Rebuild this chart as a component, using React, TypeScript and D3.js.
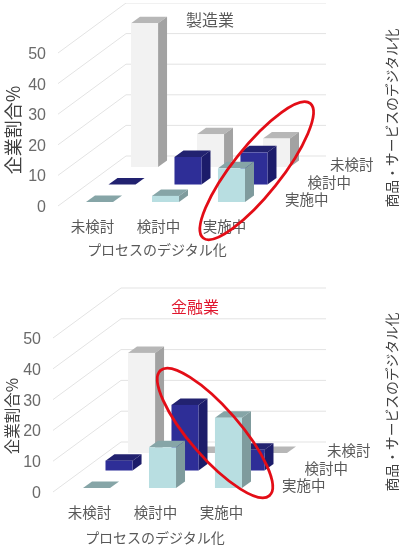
import * as d3 from "d3";

const width = 400;
const height = 547;

const processLabels = ["未検討", "検討中", "実施中"];
const productLabels = ["実施中", "検討中", "未検討"];
const yTicks = [0, 10, 20, 30, 40, 50];
const processAxisTitle = "プロセスのデジタル化";
const productAxisTitle = "商品・サービスのデジタル化";
const yAxisTitle = "企業割合%";

// % of companies, by product row then process column
const seizoJisshi = [0, 2, 11];
const seizoKento = [0, 9, 10.5];
const seizoMikento = [47, 10.7, 9.3];

const kinyuJisshi = [0, 13.2, 22.8];
const kinyuKento = [3.2, 21.3, 6.7];
const kinyuMikento = [32.5, 0, 0];

const colors = [
  { face: "#b8dee1", top: "#86a5a7", side: "#7f9b9d" },
  { face: "#2f2f97", top: "#20206f", side: "#1f1f6a" },
  { face: "#f2f2f2", top: "#b7b7b7", side: "#a2a2a2" },
];

type PanelProps = {
  title: string;
  titleColor: string;
  titleX: number;
  titleY: number;
  rows: number[][];
  y0: number; // baseline of the front of the floor
  y50: number;
  x0: number; // front-left corner of the floor
  barX: number;
  barBase: number;
  labelY: number;
  axisTitleY: number;
  axisTitleX: number;
  yTitleSize: number;
  yTitleX: number;
  yTitleY: number;
  sideTitleY: number;
  ellipse: { cx: number; cy: number; a: number; b: number; angle: number };
};

const Panel = (p: PanelProps) => {
  const yScale = d3.scaleLinear().domain([0, 50]).range([p.y0, p.y50]);
  const perUnit = (p.y0 - p.y50) / 50;
  const xScale = d3
    .scaleBand<string>()
    .domain(processLabels)
    .range([p.barX, p.barX + 159])
    .paddingInner(0.59)
    .paddingOuter(0);
  const depthX = d3.scalePoint<string>().domain(productLabels).range([0, 45]);
  const depthY = d3.scalePoint<string>().domain(productLabels).range([0, -35]);
  const barW = xScale.bandwidth();
  const topDx = 9;
  const topDy = -6.5;

  return (
    <g>
      {/* gridlines: wall plus floor edge */}
      {yTicks.map((t) => {
        const front = yScale(t);
        const back = front - 50;
        return (
          <path
            key={t}
            d={`M${p.x0},${front}L${p.x0 + 68},${back}H326`}
            fill="none"
            stroke="#e3e3e3"
            strokeWidth={1}
          />
        );
      })}
      {yTicks.map((t) => (
        <text
          key={t}
          x={p.x0 - 12}
          y={yScale(t) + 6}
          textAnchor="end"
          fontSize={16}
          fill="#6a6a6a"
          fontFamily="'Liberation Sans', sans-serif"
        >
          {t}
        </text>
      ))}

      {/* bars, back row first */}
      {[2, 1, 0].map((r) =>
        p.rows[r].map((v, c) => {
          const name = productLabels[r];
          const x = (xScale(processLabels[c]) as number) + (depthX(name) as number);
          const base = p.barBase + (depthY(name) as number);
          const top = base - v * perUnit;
          const col = colors[r];
          return (
            <g key={`${r}-${c}`}>
              <path
                d={`M${x},${top}l${topDx},${topDy}h${barW}l${-topDx},${-topDy}Z`}
                fill={col.top}
              />
              <path
                d={`M${x + barW},${top}l${topDx},${topDy}V${base + topDy}l${-topDx},${-topDy}Z`}
                fill={col.side}
              />
              <rect x={x} y={top} width={barW} height={base - top} fill={col.face} />
            </g>
          );
        })
      )}

      {processLabels.map((l) => (
        <text
          key={l}
          x={(xScale(l) as number) + barW / 2 - 7}
          y={p.labelY}
          textAnchor="middle"
          fontSize={14.5}
          fill="#595959"
          fontFamily="'Noto Sans CJK JP', sans-serif"
        >
          {l}
        </text>
      ))}
      {productLabels.map((l) => (
        <text
          key={l}
          x={p.barX + 199 + (depthX(l) as number)}
          y={p.barBase + 3 + (depthY(l) as number)}
          fontSize={14.5}
          fill="#595959"
          fontFamily="'Noto Sans CJK JP', sans-serif"
        >
          {l}
        </text>
      ))}

      <text
        x={p.axisTitleX}
        y={p.axisTitleY}
        textAnchor="middle"
        fontSize={14}
        fill="#595959"
        fontFamily="'Noto Sans CJK JP', sans-serif"
      >
        {processAxisTitle}
      </text>
      <text
        transform={`translate(${p.yTitleX},${p.yTitleY}) rotate(-90)`}
        textAnchor="middle"
        fontSize={p.yTitleSize}
        fill="#404040"
        fontFamily="'Noto Sans CJK JP', sans-serif"
      >
        {yAxisTitle}
      </text>
      <text
        transform={`translate(397,${p.sideTitleY}) rotate(-90)`}
        textAnchor="middle"
        fontSize={13.8}
        fill="#404040"
        fontFamily="'Noto Sans CJK JP', sans-serif"
      >
        {productAxisTitle}
      </text>
      <text
        x={p.titleX}
        y={p.titleY}
        textAnchor="middle"
        fontSize={16}
        fill={p.titleColor}
        fontFamily="'Noto Sans CJK JP', sans-serif"
      >
        {p.title}
      </text>
      <ellipse
        cx={0}
        cy={0}
        rx={p.ellipse.a}
        ry={p.ellipse.b}
        transform={`translate(${p.ellipse.cx},${p.ellipse.cy}) rotate(${p.ellipse.angle})`}
        fill="none"
        stroke="#e30b17"
        strokeWidth={2.8}
      />
    </g>
  );
};

const App = () => {
  return (
    <svg
      width={width}
      height={height}
      style={{ position: "absolute", left: 0, top: 0, background: "#fff" }}
    >
      <defs>
        <filter id="soft" x="0" y="0" width="100%" height="100%">
          <feGaussianBlur stdDeviation="0.35" />
        </filter>
      </defs>
      <g filter="url(#soft)">
        <Panel
          title="製造業"
          titleColor="#595959"
          titleX={210}
          titleY={26}
          rows={[seizoJisshi, seizoKento, seizoMikento]}
          y0={206}
          y50={53}
          x0={58}
          barX={86}
          barBase={202}
          labelY={232}
          axisTitleX={157}
          axisTitleY={255}
          yTitleSize={18}
          yTitleX={20}
          yTitleY={130}
          sideTitleY={118}
          ellipse={{ cx: 256.7, cy: 170.7, a: 86, b: 24, angle: -51.5 }}
        />
        <Panel
          title="金融業"
          titleColor="#e0182d"
          titleX={195}
          titleY={313}
          rows={[kinyuJisshi, kinyuKento, kinyuMikento]}
          y0={492}
          y50={338}
          x0={53}
          barX={83}
          barBase={488}
          labelY={518}
          axisTitleX={155}
          axisTitleY={543}
          yTitleSize={15.5}
          yTitleX={18}
          yTitleY={416}
          sideTitleY={402}
          ellipse={{ cx: 215, cy: 433, a: 83, b: 25, angle: 49 }}
        />
      </g>
    </svg>
  );
};

export default App;
